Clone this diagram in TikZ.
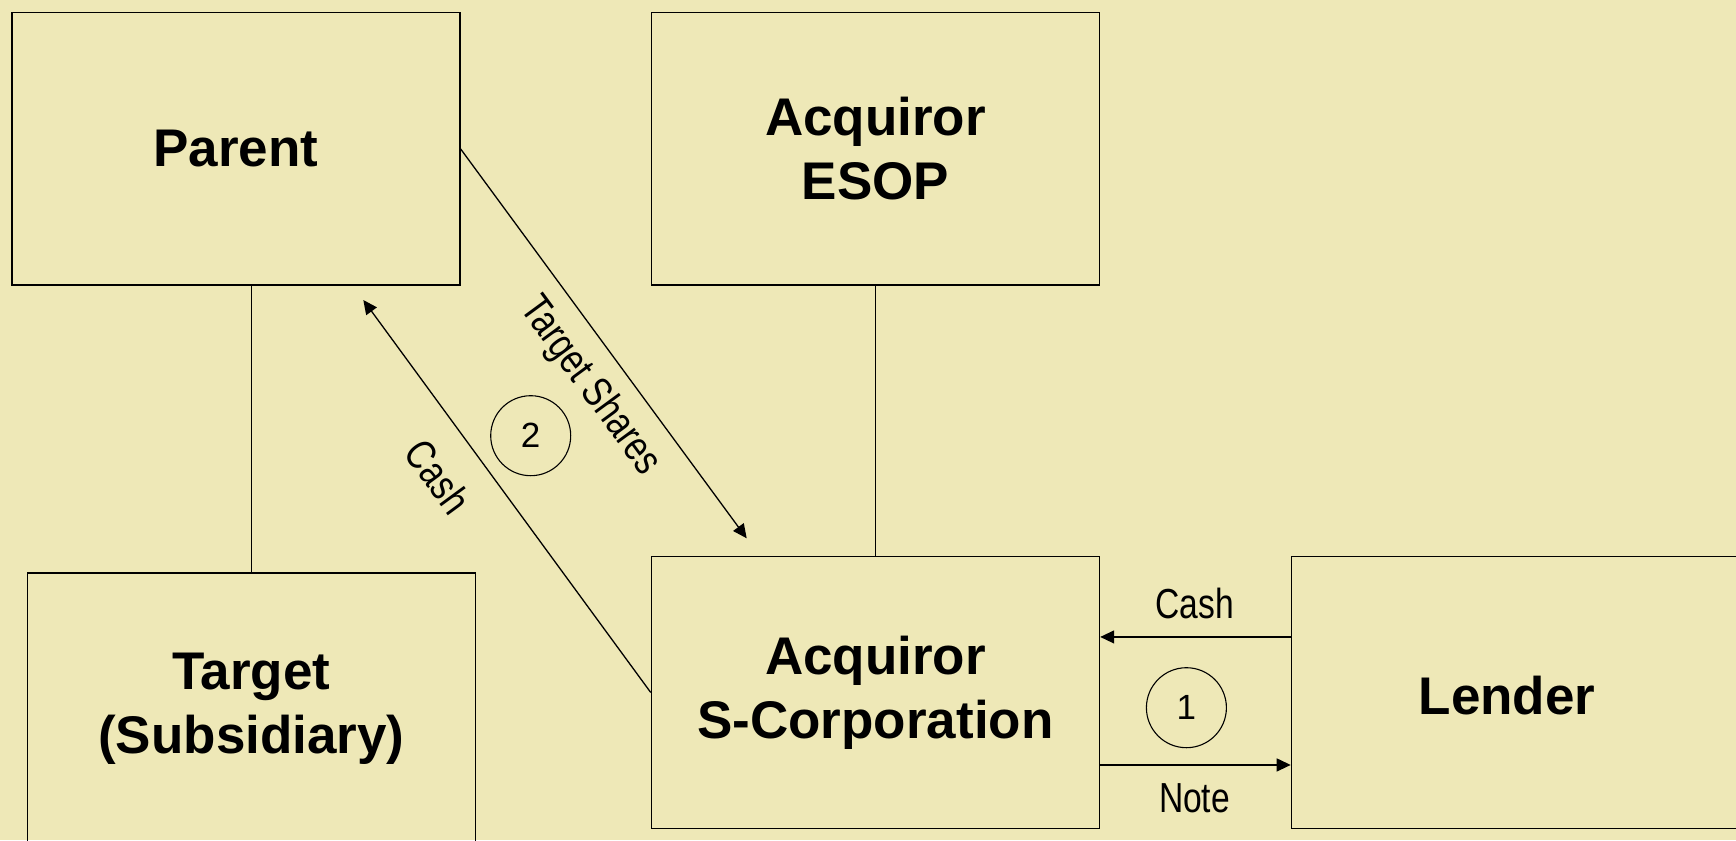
\documentclass[tikz,border=0pt]{standalone}
\usepackage{fontspec}
\setmainfont{Liberation Sans}
\newfontfamily\narrowfont{Liberation Sans}[FakeStretch=0.8]
\usetikzlibrary{arrows.meta}
\definecolor{paper}{RGB}{238,232,183}
\tikzset{
  entity/.style={draw=black, line width=1.5pt, minimum width=448pt, minimum height=272pt,
    inner sep=0pt, anchor=north west, align=center,
    font=\bfseries\fontsize{53}{64}\selectfont},
  flow/.style={line width=1.3pt, -{Triangle[length=14pt,width=13pt]}},
  link/.style={line width=1.3pt},
  flowlabel/.style={font=\narrowfont\fontsize{42}{48}\selectfont, inner sep=0pt},
  step num/.style={draw, circle, line width=1.1pt, minimum size=80pt, inner sep=0pt,
    font=\fontsize{35}{40}\selectfont}
}
\begin{document}
\begin{tikzpicture}[x=1pt,y=-1pt]
  \fill[paper] (0,0) rectangle (1736,840);
  \useasboundingbox (0,0) rectangle (1736,840);

  % entities
  \node[entity] (parent) at (11,12) {Parent};
  \node[entity] (esop) at (650.7,12) {Acquiror\\ESOP};
  \node[entity] (target) at (26.7,572) {Target\\(Subsidiary)};
  \node[entity] (scorp) at (650.7,555.7) {Acquiror\\S-Corporation};
  \node[entity] (lender) at (1290.7,555.7) {};
  \node[font=\bfseries\fontsize{53}{64}\selectfont, inner sep=0pt] (lenderlabel) at (1507,696) {Lender};

  % ownership links
  \draw[link] (target.north) -- (target.north |- parent.south);
  \draw[link] (esop.south) -- (scorp.north);

  % step 2: share purchase
  \coordinate (sharesTip) at (746.7,538.3);
  \coordinate (cashTip) at (363.3,300);
  \draw[flow] (parent.east) -- (sharesTip);
  \draw[flow] (scorp.west) -- (cashTip);
  \node[flowlabel, rotate=-53.7] (shareslabel) at (589.7,386.7) {Target Shares};
  \node[flowlabel, rotate=-53.7] (cashlabelA) at (438.3,476.7) {Cash};
  \node[step num] (two) at (530.7,435.7) {2};

  % step 1: loan
  \draw[flow] ([yshift=55.5pt]lender.west) -- ([yshift=55.5pt]scorp.east);
  \draw[flow] ([yshift=-72.5pt]scorp.east) -- ([yshift=-72.5pt]lender.west);
  \node[flowlabel] (cashlabelB) at (1194.5,603) {Cash};
  \node[flowlabel] (notelabel) at (1194.5,798) {Note};
  \node[step num] (one) at (1186.4,707.7) {1};
\end{tikzpicture}
\end{document}
